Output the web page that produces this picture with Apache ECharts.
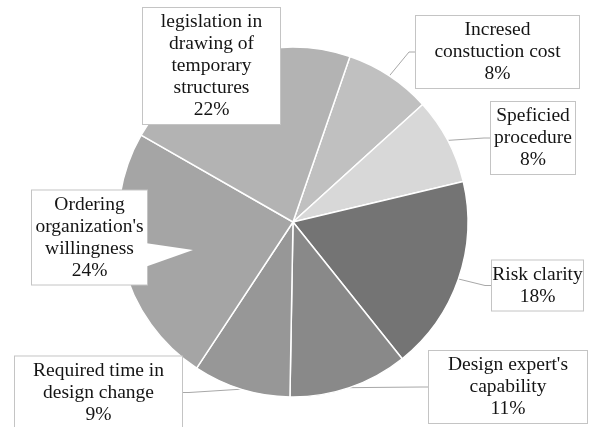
<!DOCTYPE html>
<html>
<head>
<meta charset="utf-8">
<script src="https://cdn.jsdelivr.net/npm/echarts@6/dist/echarts.min.js"></script>
<style>
  html, body { margin: 0; padding: 0; background: #fff; }
  #chart { width: 590px; height: 427px; }
</style>
</head>
<body>
<div id="chart"></div>
<script>
// Share of factors (%), clockwise from the top of the pie
const categories = [
  "Incresed constuction cost",
  "Speficied procedure",
  "Risk clarity",
  "Design expert's capability",
  "Required time in design change",
  "Ordering organization's willingness",
  "legislation in drawing of temporary structures"
];
const values = [8, 8, 18, 11, 9, 24, 22];
// Wrapped label text for each category
const labelText = [
  "Incresed\nconstuction cost",
  "Speficied\nprocedure",
  "Risk clarity",
  "Design expert's\ncapability",
  "Required time in\ndesign change",
  "Ordering\norganization's\nwillingness",
  "legislation in\ndrawing of\ntemporary\nstructures"
];

// Slice greys and label box placement (center x, center y, box width)
const sliceColors = ['#c0c0c0', '#d8d8d8', '#747474', '#898989', '#979797', '#a5a5a5', '#b3b3b3'];
const boxes = [
  [497.5, 52, 163],
  [533, 138, 84],
  [537.5, 285.5, 91],
  [508, 387, 158],
  [98.5, 392.5, 167],
  [89.5, 237.5, 115],
  [211.5, 66, 137]
];
const noLeader = [5, 6];

const PAD_V = 3, PAD_H = 2;

const chart = echarts.init(document.getElementById('chart'), null, { renderer: 'canvas' });

const data = categories.map((name, i) => ({
  name: name,
  value: values[i],
  itemStyle: { color: sliceColors[i] },
  label: { width: boxes[i][2] - 2 * PAD_H },
  labelLine: { show: noLeader.indexOf(i) < 0 }
}));

// Callout pointer of the "Ordering" box, aimed into its slice
const ob = boxes[5];
const obRight = ob[0] + ob[2] / 2;
const pointer = {
  type: 'polygon',
  z: 100,
  shape: { points: [[obRight - 2, ob[1] + 5.5], [obRight + 46, ob[1] + 12.5], [obRight - 2, ob[1] + 29.5]] },
  style: { fill: '#ffffff', stroke: null }
};

chart.setOption({
  backgroundColor: '#ffffff',
  animation: false,
  graphic: [pointer],
  series: [{
    type: 'pie',
    center: [293, 222],
    radius: 175,
    startAngle: 71,
    clockwise: true,
    data: data,
    itemStyle: { borderColor: '#ffffff', borderWidth: 1.5 },
    label: {
      show: true,
      position: 'outside',
      formatter: p => labelText[p.dataIndex] + '\n' + p.value + '%',
      fontFamily: "'Liberation Serif', 'Times New Roman', serif",
      fontSize: 19.5,
      lineHeight: 22,
      color: '#141414',
      align: 'center',
      overflow: 'none',
      backgroundColor: '#ffffff',
      borderColor: '#c4c4c4',
      borderWidth: 1,
      padding: [PAD_V, PAD_H]
    },
    labelLine: {
      show: true,
      length: 12,
      length2: 6,
      smooth: false,
      lineStyle: { color: '#a8a8a8', width: 1 }
    },
    labelLayout: function (params) {
      const b = boxes[params.dataIndex];
      return { x: b[0], y: b[1], align: 'center', verticalAlign: 'middle', hideOverlap: false, moveOverlap: false };
    }
  }]
});
</script>
</body>
</html>
